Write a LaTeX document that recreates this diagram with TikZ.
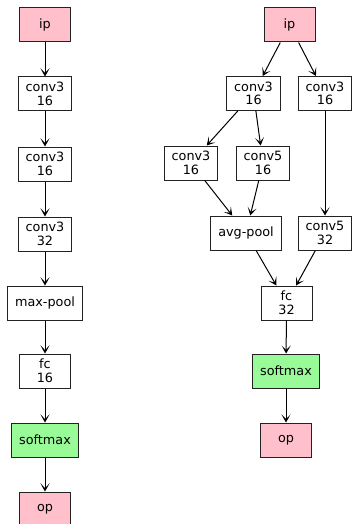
\documentclass[tikz,border=0pt]{standalone}
\usepackage{fontspec}
\setmainfont{DejaVu Sans}
\usetikzlibrary{arrows.meta}
\definecolor{inout}{HTML}{FFC0CB}
\definecolor{smax}{HTML}{98FB98}
\definecolor{edge}{HTML}{222222}
\begin{document}
\begin{tikzpicture}[x=1pt,y=-1pt,
  layer/.style={draw=edge,line width=1pt,fill=white,align=center,
    inner xsep=7.5pt,inner ysep=3pt,minimum width=51pt,minimum height=34pt,
    font=\fontsize{12.8}{13.6}\selectfont},
  io/.style={layer,fill=inout},
  sm/.style={layer,fill=smax},
  flow/.style={-{Stealth[length=8pt,width=9pt,inset=4.5pt]},line width=1pt,black}]
\useasboundingbox (0,0) rectangle (352,524);
% sequential network
\node[io]    (lip)   at (45,25)  {ip};
\node[layer] (lc1)   at (45,94)  {conv3\\16};
\node[layer] (lc2)   at (45,164) {conv3\\16};
\node[layer] (lc3)   at (45,234) {conv3\\32};
\node[layer] (lmp)   at (45,303) {max-pool};
\node[layer] (lfc)   at (45,371) {fc\\16};
\node[sm]    (lsm)   at (45,440) {softmax};
\node[io]    (lop)   at (45,509) {op};
\draw[flow] (lip) -- (lc1);
\draw[flow] (lc1) -- (lc2);
\draw[flow] (lc2) -- (lc3);
\draw[flow] (lc3) -- (lmp);
\draw[flow] (lmp) -- (lfc);
\draw[flow] (lfc) -- (lsm);
\draw[flow] (lsm) -- (lop);
% branching network
\node[io]    (rip)   at (289.5,25)  {ip};
\node[layer] (ra)    at (253.5,93.5) {conv3\\16};
\node[layer] (rb)    at (325,93.5)  {conv3\\16};
\node[layer] (raa)   at (191,163)   {conv3\\16};
\node[layer] (rab)   at (263,163)   {conv5\\16};
\node[layer] (rap)   at (246,233)   {avg-pool};
\node[layer] (rbb)   at (325,233)   {conv5\\32};
\node[layer] (rfc)   at (286.5,303) {fc\\32};
\node[sm]    (rsm)   at (286,371)   {softmax};
\node[io]    (rop)   at (286,440)   {op};
\draw[flow] (rip) -- (ra);
\draw[flow] (rip) -- (rb);
\draw[flow] (ra) -- (raa);
\draw[flow] (ra) -- (rab);
\draw[flow] (rb) -- (rbb);
\draw[flow] (raa) -- (rap);
\draw[flow] (rab) -- (rap);
\draw[flow] (rap) -- (rfc);
\draw[flow] (rbb) -- (rfc);
\draw[flow] (rfc) -- (rsm);
\draw[flow] (rsm) -- (rop);
\end{tikzpicture}
\end{document}
